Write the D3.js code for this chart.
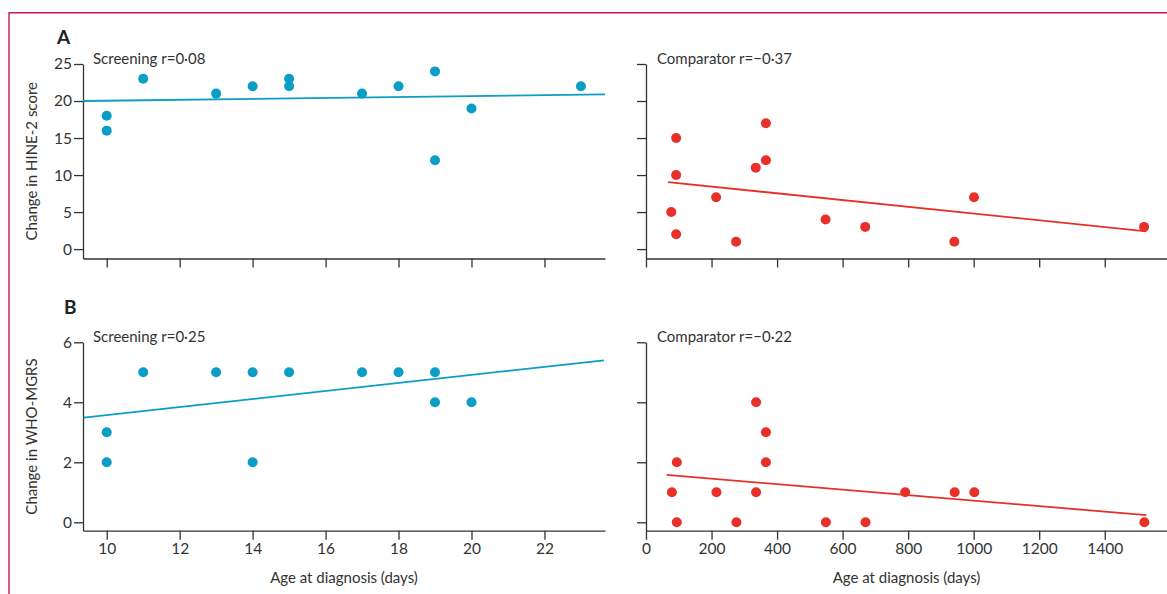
<!DOCTYPE html>
<html>
<head>
<meta charset="utf-8">
<script src="https://cdn.jsdelivr.net/npm/d3@7/dist/d3.min.js"></script>
<style>
	body { margin: 0; background: white; }
	svg { display: block; font-family: Lato, "Open Sans", sans-serif; }
	.tick text { fill: #333; font-size: 15.5px; }
	.domain, .tick line { stroke: #333; stroke-width: 1.3px; }
</style>
</head>
<body>
<svg id="chart" width="1167" height="594"></svg>
<script>
// screening group, HINE-2
var screenHineAge = [10, 10, 11, 13, 14, 15, 15, 17, 18, 19, 19, 20, 23];
var screenHine    = [18, 16, 23, 21, 22, 23, 22, 21, 22, 24, 12, 19, 22];
var screenHineFit = [[9.35, 20.0], [23.66, 20.9]];

// comparator group, HINE-2
var compHineAge = [77, 92, 92, 92, 214, 275, 335, 366, 366, 548, 669, 941, 1001, 1520];
var compHine    = [5, 15, 10, 2, 7, 1, 11, 17, 12, 4, 3, 1, 7, 3];
var compHineFit = [[67, 9.05], [1527, 2.4]];

// screening group, WHO-MGRS
var screenWhoAge = [10, 10, 11, 13, 14, 14, 15, 17, 18, 19, 19, 20];
var screenWho    = [3, 2, 5, 5, 5, 2, 5, 5, 5, 5, 4, 4];
var screenWhoFit = [[9.37, 3.49], [23.63, 5.40]];

// comparator group, WHO-MGRS
var compWhoAge = [79, 94, 94, 215, 276, 336, 336, 366, 366, 549, 670, 791, 942, 1002, 1521];
var compWho    = [1, 2, 0, 1, 0, 4, 1, 3, 2, 0, 0, 1, 1, 1, 0];
var compWhoFit = [[63, 1.58], [1527, 0.24]];

var screenTicks = [10, 12, 14, 16, 18, 20, 22];
var compTicks   = [0, 200, 400, 600, 800, 1000, 1200, 1400];
var hineTicks   = [0, 5, 10, 15, 20, 25];
var whoTicks    = [0, 2, 4, 6];

var colors = {
	screening: "#0a9dc5",
	comparator: "#e8302a",
	text: "#333",
	frame: "#c8194b"
};

var svg = d3.select("#chart");

// thin frame, top and left only
svg.append("path")
	.attr("d", "M9,594V12.7H1167")
	.attr("fill", "none")
	.attr("stroke", colors.frame)
	.attr("stroke-width", 1.4);

// shared x scales per column
var xScreen = d3.scaleLinear().domain([9.35, 23.66]).range([83, 605]);
var xComp   = d3.scaleLinear().domain([0, 1590]).range([646, 1167]);

// y scales per row
var yHine = d3.scaleLinear().domain([-1.27, 25]).range([258.5, 64]);
var yWho  = d3.scaleLinear().domain([-0.28, 6]).range([530.7, 342.3]);

var plain = d3.format("d");	// no "1,000" or "6.0" please

function panel(opts) {
	var g = svg.append("g");
	var x = opts.x, y = opts.y;
	var bottom = y.range()[0];

	var xAxis = d3.axisBottom(x).tickValues(opts.xTicks).tickSize(9).tickSizeOuter(0).tickPadding(3)
		.tickFormat(opts.xLabels ? plain : "");
	g.append("g")
		.attr("transform", "translate(0," + bottom + ")")
		.call(xAxis);

	var yAxis = d3.axisLeft(y).tickValues(opts.yTicks).tickSize(9).tickSizeOuter(0).tickPadding(2)
		.tickFormat(opts.yLabels ? plain : "");
	g.append("g")
		.attr("transform", "translate(" + x.range()[0] + ",0)")
		.call(yAxis);

	// let the css fonts win over d3's defaults
	g.selectAll("g").attr("font-family", null).attr("font-size", null);

	var line = d3.line()
		.x(function(d) { return x(d[0]); })
		.y(function(d) { return y(d[1]); });

	g.append("path")
		.datum(opts.fit)
		.attr("d", line)
		.attr("fill", "none")
		.attr("stroke", opts.color)
		.attr("stroke-width", 1.8);

	g.selectAll("circle.pt")
		.data(opts.ages)
		.enter()
		.append("circle")
		.attr("class", "pt")
		.attr("cx", function(d) { return x(d); })
		.attr("cy", function(d, i) { return y(opts.values[i]); })
		.attr("r", 5)
		.attr("fill", opts.color);

	g.append("text")
		.attr("x", x.range()[0] + opts.labelDx)
		.attr("y", y(opts.yTicks[opts.yTicks.length - 1]) - 0.5)
		.attr("fill", colors.text)
		.attr("font-size", 15)
		.text(opts.label);

	if (opts.title) {
		var cy = (y.range()[0] + y.range()[1]) / 2;
		g.append("text")
			.attr("transform", "translate(37," + cy + ") rotate(-90)")
			.attr("text-anchor", "middle")
			.attr("fill", colors.text)
			.attr("font-size", 15)
			.text(opts.title);
	}

	if (opts.xTitle) {
		g.append("text")
			.attr("x", (x.range()[0] + x.range()[1]) / 2)
			.attr("y", 583)
			.attr("text-anchor", "middle")
			.attr("fill", colors.text)
			.attr("font-size", 15)
			.text("Age at diagnosis (days)");
	}
}

panel({ x: xScreen, y: yHine, xTicks: screenTicks, yTicks: hineTicks, xLabels: false, yLabels: true,
	ages: screenHineAge, values: screenHine, fit: screenHineFit, color: colors.screening,
	label: "Screening r=0·08", labelDx: 10, title: "Change in HINE-2 score" });

panel({ x: xComp, y: yHine, xTicks: compTicks, yTicks: hineTicks, xLabels: false, yLabels: false,
	ages: compHineAge, values: compHine, fit: compHineFit, color: colors.comparator,
	label: "Comparator r=−0·37", labelDx: 11 });

panel({ x: xScreen, y: yWho, xTicks: screenTicks, yTicks: whoTicks, xLabels: true, yLabels: true,
	ages: screenWhoAge, values: screenWho, fit: screenWhoFit, color: colors.screening,
	label: "Screening r=0·25", labelDx: 10, title: "Change in WHO-MGRS", xTitle: true });

panel({ x: xComp, y: yWho, xTicks: compTicks, yTicks: whoTicks, xLabels: true, yLabels: false,
	ages: compWhoAge, values: compWho, fit: compWhoFit, color: colors.comparator,
	label: "Comparator r=−0·22", labelDx: 11, xTitle: true });

// panel letters
svg.append("text").attr("x", 57).attr("y", 44)
	.attr("font-size", 19).attr("font-weight", "bold").attr("fill", "#222").text("A");
svg.append("text").attr("x", 64).attr("y", 314)
	.attr("font-size", 19).attr("font-weight", "bold").attr("fill", "#222").text("B");
</script>
</body>
</html>
